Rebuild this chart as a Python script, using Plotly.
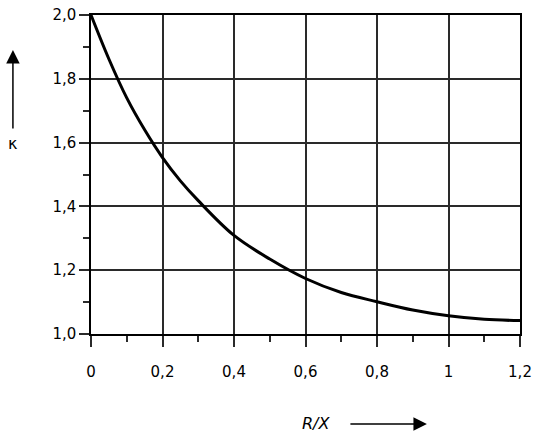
import plotly.graph_objects as go

# Data
rx = [0.0, 0.05, 0.1, 0.15, 0.2, 0.25, 0.3, 0.4, 0.5, 0.6, 0.7, 0.8, 0.9, 1.0, 1.1, 1.2]
kappa = [2.0, 1.862, 1.74, 1.64, 1.553, 1.48, 1.418, 1.309, 1.235, 1.174, 1.13, 1.101, 1.075, 1.057, 1.046, 1.042]

x_tickvals = [0, 0.2, 0.4, 0.6, 0.8, 1.0, 1.2]
x_ticktext = ["0", "0,2", "0,4", "0,6", "0,8", "1", "1,2"]
y_tickvals = [1.0, 1.2, 1.4, 1.6, 1.8, 2.0]
y_ticktext = ["1,0", "1,2", "1,4", "1,6", "1,8", "2,0"]

FONT = "DejaVu Sans"
GRID = "#2a2a2a"

fig = go.Figure()
fig.add_trace(go.Scatter(
    x=rx, y=kappa, mode="lines",
    line=dict(color="black", width=3, shape="spline", smoothing=1.0),
    hoverinfo="skip", showlegend=False,
))

fig.update_xaxes(
    range=[0, 1.2], tickvals=x_tickvals, ticktext=x_ticktext,
    showgrid=True, gridcolor=GRID, gridwidth=1.5,
    showline=True, linecolor="black", linewidth=1.5, mirror=True,
    ticks="outside", ticklen=11, tickwidth=1.5, tickcolor=GRID,
    ticklabelstandoff=12, automargin=False,
    minor=dict(dtick=0.1, ticks="outside", ticklen=6, tickwidth=1.5, tickcolor=GRID, showgrid=False),
    zeroline=False, tickfont=dict(family=FONT, size=15, color="black"),
)
fig.update_yaxes(
    range=[1.0, 2.0], tickvals=y_tickvals, ticktext=y_ticktext,
    showgrid=True, gridcolor=GRID, gridwidth=1.5,
    showline=True, linecolor="black", linewidth=1.5, mirror=True,
    ticks="outside", ticklen=10, tickwidth=1.5, tickcolor=GRID,
    automargin=False,
    minor=dict(dtick=0.1, ticks="outside", ticklen=6, tickwidth=1.5, tickcolor=GRID, showgrid=False),
    zeroline=False, tickfont=dict(family=FONT, size=15, color="black"),
)

annotations = [
    # kappa label and upward arrow
    dict(xref="paper", yref="paper", x=-0.181, y=0.598, xanchor="center", yanchor="middle",
         text="κ", showarrow=False, font=dict(family=FONT, size=16, color="black")),
    dict(xref="paper", yref="paper", x=-0.182, y=0.89, text="", showarrow=True,
         ax=0, ay=80, arrowhead=2, arrowsize=1.8, arrowwidth=1.5, arrowcolor="black"),
    # R/X label and right arrow
    dict(xref="paper", yref="paper", x=0.525, y=-0.282, xanchor="center", yanchor="middle",
         text="<i>R/X</i>", showarrow=False, font=dict(family=FONT, size=16, color="black")),
    dict(xref="paper", yref="paper", x=0.783, y=-0.282, text="", showarrow=True,
         ax=-78, ay=0, arrowhead=2, arrowsize=1.8, arrowwidth=1.5, arrowcolor="black"),
]

fig.update_layout(
    width=535, height=438,
    margin=dict(l=91, r=15, t=15, b=104),
    paper_bgcolor="white", plot_bgcolor="white",
    annotations=annotations,
    font=dict(family=FONT, size=15, color="black"),
)

# remove the default 8px page margin so the figure sits at the window's corner
fig.write_html("out.html", config={"displayModeBar": False},
               post_script="document.body.style.margin='0';")
